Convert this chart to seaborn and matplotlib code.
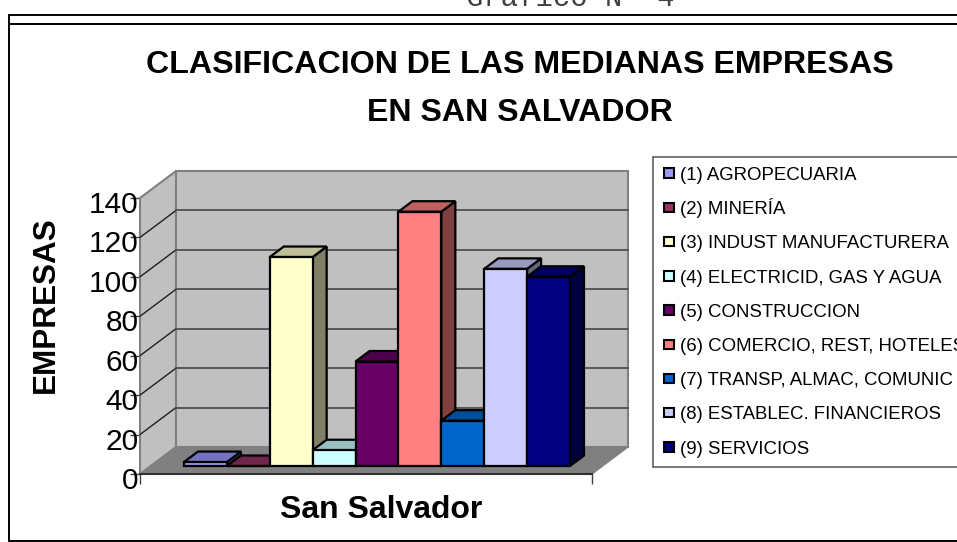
import pandas as pd
import seaborn as sns
import matplotlib.pyplot as plt
from matplotlib.lines import Line2D
from matplotlib.patches import Polygon, Rectangle
from matplotlib.colors import to_rgb
from matplotlib.transforms import Affine2D

# ------------------------------
# Data
# ------------------------------
sectors = [
    "(1) AGROPECUARIA",
    "(2) MINERÍA",
    "(3) INDUST MANUFACTURERA",
    "(4) ELECTRICID, GAS Y AGUA",
    "(5) CONSTRUCCION",
    "(6) COMERCIO, REST, HOTELES",
    "(7) TRANSP, ALMAC, COMUNIC",
    "(8) ESTABLEC. FINANCIEROS",
    "(9) SERVICIOS",
]
empresas = [2, 0, 106, 8, 53, 129, 23, 100, 96]
colors = ["#9999FF", "#993366", "#FFFFCC", "#CCFFFF", "#660066",
          "#FF8080", "#0066CC", "#CCCCFF", "#000080"]
y_ticks = [0, 20, 40, 60, 80, 100, 120, 140]

df = pd.DataFrame({"sector": sectors, "empresas": empresas})

W, H = 957, 542
PX_PER_UNIT = 276 / 140
PX_PER_BAR = 386 / 9


def shade(color, k):
    return tuple(c * k for c in to_rgb(color))


sns.set_theme(style="white")
plt.rcParams["font.family"] = ["Liberation Sans", "DejaVu Sans"]

fig = plt.figure(figsize=(W / 100, H / 100), dpi=100, facecolor="white")

# ------------------------------
# Front axis, walls and floor
# ------------------------------
ax_front = fig.add_axes([140 / W, (H - 474) / H, 452 / W, 276 / H])
ax_front.set_xlim(0, 1)
ax_front.set_ylim(0, 140)
ax_front.patch.set_visible(False)

dx = 36 / 452
dy = 27 / PX_PER_UNIT
wall_style = dict(edgecolor="#808080", linewidth=1.5, clip_on=False, zorder=1)
ax_front.add_patch(Polygon([(0, 0), (dx, dy), (dx, 140 + dy), (0, 140)],
                           facecolor="#C0C0C0", **wall_style))
ax_front.add_patch(Polygon([(dx, dy), (1 + dx, dy), (1 + dx, 140 + dy), (dx, 140 + dy)],
                           facecolor="#C0C0C0", **wall_style))
ax_front.add_patch(Polygon([(0, 0), (1, 0), (1 + dx, dy), (dx, dy)],
                           facecolor="#808080", edgecolor="#808080",
                           clip_on=False, zorder=1))
for v in y_ticks[1:-1]:
    ax_front.plot([0, dx], [v, v + dy], color="#202020", lw=1, clip_on=False, zorder=2)
    ax_front.plot([dx, 1 + dx], [v + dy, v + dy], color="#505050", lw=1.3, clip_on=False, zorder=2)

sns.despine(ax=ax_front, left=True, top=True, right=True)
ax_front.spines["bottom"].set_color("#303030")
ax_front.spines["bottom"].set_linewidth(1.5)
ax_front.set_yticks(y_ticks)
ax_front.set_xticks([0, 1])
ax_front.set_xticklabels([])
ax_front.tick_params(axis="y", left=True, length=7, width=1, color="#404040",
                     pad=-6, labelsize=21.5, labelcolor="black")
ax_front.tick_params(axis="x", bottom=True, length=7, width=1, color="#404040")
# tick labels sit a bit lower than their ticks in the original
for lab in ax_front.get_yticklabels():
    lab.set_verticalalignment("center")
    lab.set_transform(lab.get_transform() + Affine2D().translate(0, -7))
ax_front.set_xlabel("San Salvador", fontsize=23, fontweight="bold", color="black")
ax_front.xaxis.set_label_coords((381 - 140) / 452, -(510 - 474) / 276)
ax_front.xaxis.label.set_verticalalignment("center")
ax_front.set_ylabel("EMPRESAS", fontsize=22.7, fontweight="bold", color="black")
ax_front.yaxis.set_label_coords((46 - 140) / 452, (474 - 305) / 276)
ax_front.yaxis.label.set_verticalalignment("center")

# ------------------------------
# Bars, full figure axes so the bars sit mid depth on the floor
# ------------------------------
ax = fig.add_axes([0, 0, 1, 1], zorder=3)
ax.patch.set_visible(False)
sns.barplot(data=df, x="sector", y="empresas", hue="sector", order=sectors,
            hue_order=sectors, palette=colors, width=1, saturation=1,
            edgecolor="black", linewidth=1.6, legend=False, ax=ax)
ax.set_xlim(-0.5 - 184 / PX_PER_BAR, -0.5 + (W - 184) / PX_PER_BAR)
ax.set_ylim(-(H - 466) / PX_PER_UNIT, 466 / PX_PER_UNIT)
ax.axis("off")

bar_dx = 14 / PX_PER_BAR
bar_dy = 10.5 / PX_PER_UNIT
for i, bar in enumerate(ax.patches):
    x0, w, h = bar.get_x(), bar.get_width(), bar.get_height()
    bar.set_zorder(10 + 2 * i + 1)
    ax.add_patch(Polygon([(x0 + w, 0), (x0 + w + bar_dx, bar_dy),
                          (x0 + w + bar_dx, h + bar_dy), (x0 + w, h)],
                         facecolor=shade(colors[i], 0.5), edgecolor="black",
                         linewidth=1.6, zorder=10 + 2 * i))
    ax.add_patch(Polygon([(x0, h), (x0 + w, h), (x0 + w + bar_dx, h + bar_dy),
                          (x0 + bar_dx, h + bar_dy)],
                         facecolor=shade(colors[i], 0.75), edgecolor="black",
                         linewidth=1.6, zorder=10 + 2 * i))

# ------------------------------
# Legend by hand, the accent in MINERÍA breaks the row spacing of fig.legend
# ------------------------------
fig.add_artist(Rectangle((653 / W, 1 - 467 / H), 400 / W, 310 / H, facecolor="white",
                         edgecolor="#606060", linewidth=1.2, transform=fig.transFigure))
for i, (name, c) in enumerate(zip(sectors, colors)):
    row_y = 173.3 + 34.2 * i
    fig.add_artist(Rectangle((664 / W, 1 - (row_y + 4.7) / H), 9.5 / W, 9.5 / H, facecolor=c,
                             edgecolor="black", linewidth=1.5, transform=fig.transFigure))
    fig.text(680 / W, 1 - (row_y + 6.7) / H, name, ha="left", va="baseline",
             fontsize=13.45, color="black")

# ------------------------------
# Titles and outer frame
# ------------------------------
fig.text(520 / W, 1 - 89 / H,
         "CLASIFICACION DE LAS MEDIANAS EMPRESAS\nEN SAN SALVADOR",
         ha="center", va="center", fontsize=23.1, fontweight="bold",
         linespacing=1.78, color="black")
fig.text(570 / W, 1 - 6 / H, "Gráfico N° 4", ha="center", va="baseline",
         fontsize=20.8, family="Liberation Mono", color="#404040")

frame_lines = [([9, W], [14.5, 14.5]), ([9, W], [24, 24]), ([9, 9], [14.5, 541]), ([9, W], [540.5, 540.5])]
for xs, ys in frame_lines:
    fig.add_artist(Line2D([x / W for x in xs], [1 - y / H for y in ys],
                          color="black", lw=1.4))

plt.savefig("out.png", dpi=100)
